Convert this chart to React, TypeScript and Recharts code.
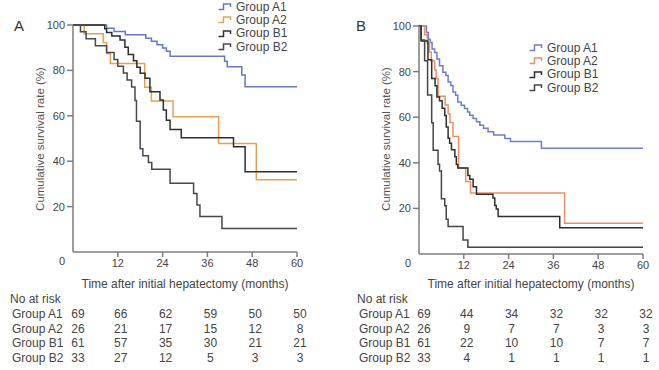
import { LineChart, Line, XAxis, YAxis } from "recharts";

// Panel A: survival (%) vs months, [month, survival]
const aA1 = [[0, 100], [9, 98.6], [11, 97.1], [14, 95.7], [19.5, 94.2], [21, 92.8], [22.5, 91.3], [24, 89.9], [25, 88.4], [26, 86.2], [40.6, 84], [41.3, 81.6], [45.2, 78], [46.1, 72.8], [60, 72.8]];
const aA2 = [[0, 100], [3, 96.2], [8.1, 92.3], [9, 87.5], [10, 83], [19.2, 72.6], [21, 66.5], [26.8, 59.6], [39, 47.8], [49.1, 31.8], [60, 31.8]];
const aB1 = [[0, 100], [8.5, 98.4], [9, 96.7], [10.4, 95.1], [12.6, 93.4], [13.9, 90.2], [14.8, 87], [16.2, 84.2], [17.1, 81.4], [18, 78.7], [19.3, 76.5], [20.6, 70.6], [23.3, 67], [24.2, 62.6], [25, 58], [26, 54], [29, 50.3], [43, 46.4], [46.1, 35.4], [60, 35.4]];
const aB2 = [[0, 100], [2, 97], [3.5, 93.9], [6, 90.9], [9, 87.9], [11, 84.8], [12, 81.8], [13.5, 78.8], [14.5, 75.8], [15.7, 72.7], [16.6, 66.7], [17, 57.6], [18, 45.5], [18.7, 42.4], [20.2, 39.4], [21.1, 36.4], [26, 30.3], [32.3, 25.8], [33.2, 20.7], [34, 15.6], [39.9, 10.4], [60, 10.4]];

// Panel B
const bA1 = [[0, 100], [2, 97.1], [2.5, 94.2], [3, 92.8], [3.5, 89.9], [4.2, 88.4], [4.8, 85.5], [5.5, 82.6], [6.4, 79.7], [7.2, 78.3], [7.8, 75.4], [8.5, 73.9], [9.1, 71], [9.8, 69.6], [10.4, 66.7], [11.3, 65.2], [12.2, 63.8], [13, 62.3], [13.6, 60.9], [14.5, 59.4], [15.4, 58], [16.3, 56.5], [17.3, 55.1], [18.5, 53.6], [20, 52.2], [23, 50.7], [24.5, 49.3], [32.8, 46.4], [60, 46.4]];
const bA2 = [[0, 100], [1.5, 96.2], [2.2, 92.3], [2.8, 88.5], [3.3, 84.6], [4.2, 80.8], [4.6, 76.9], [5.1, 69.2], [7, 65.4], [7.8, 61.5], [8.3, 57.7], [9.1, 51.5], [10.6, 37.7], [12.5, 31.8], [13.8, 26.7], [39, 13.5], [60, 13.5]];
const bB1 = [[0, 100], [0.6, 93.4], [2.4, 85.2], [3.4, 77], [4.3, 73.8], [4.8, 68.9], [5.5, 67.2], [6.2, 63.9], [6.9, 60.7], [7.3, 55.7], [7.8, 50.8], [8.2, 48.6], [8.7, 45.7], [9.6, 42.6], [10, 39.3], [10.4, 37.7], [13.1, 34.4], [13.6, 32.8], [14.5, 29.5], [15.4, 26.2], [19.8, 24.6], [20.3, 21.3], [20.7, 19.7], [21.2, 16.4], [37.7, 11.5], [60, 11.5]];
const bB2 = [[0, 100], [0.5, 93.9], [1.5, 84.8], [2.3, 69.7], [3.4, 57.6], [3.8, 45.5], [5.1, 39.4], [5.5, 36.4], [6, 24.2], [6.9, 21.2], [7.3, 15.2], [7.8, 12.1], [11.8, 6.1], [13.1, 3], [60, 3]];

const groups = ["Group A1", "Group A2", "Group B1", "Group B2"];
const xTicks = [12, 24, 36, 48, 60];
const yTicks = [20, 40, 60, 80, 100];
const riskMonths = [0, 12, 24, 36, 48, 60];
const riskA = [
  [69, 66, 62, 59, 50, 50],
  [26, 21, 17, 15, 12, 8],
  [61, 57, 35, 30, 21, 21],
  [33, 27, 12, 5, 3, 3],
];
const riskB = [
  [69, 44, 34, 32, 32, 32],
  [26, 9, 7, 7, 3, 3],
  [61, 22, 10, 10, 7, 7],
  [33, 4, 1, 1, 1, 1],
];

const FONT = '"Liberation Sans", Arial, Helvetica, sans-serif';
const TXT = "#444";
const AXIS = "#7d7d7d";

const toPts = (a: number[][]) => a.map(([t, s]) => ({ t, s }));

type PanelProps = {
  left: number;
  width: number;
  letter: string;
  letterX: number;
  series: number[][][];
  colors: string[];
  margin: { top: number; right: number; left: number; bottom: number };
  legendX: number;
  legendY: number;
  risk: number[][];
  labelX: number;
};

function LegendIcon({ color }: { color: string }) {
  return (
    <svg width={16} height={9} style={{ display: "block" }}>
      <path d="M0.5,7.5 H5.5 V2 H12.5 V5" fill="none" stroke={color} strokeWidth={1.5} />
    </svg>
  );
}

function Panel(p: PanelProps) {
  const plotL = p.margin.left + 40;
  const plotR = p.width - p.margin.right;
  const xOf = (m: number) => plotL + ((plotR - plotL) * m) / 60;
  const plotBottom = 280 - p.margin.bottom - 20;
  return (
    <div style={{ position: "absolute", left: p.left, top: 0, width: p.width, height: 370 }}>
      <LineChart width={p.width} height={280} margin={p.margin}>
        <XAxis
          type="number"
          dataKey="t"
          domain={[0, 60]}
          ticks={xTicks}
          height={20}
          allowDuplicatedCategory={false}
          stroke={AXIS}
          strokeWidth={1.5}
          tickSize={5}
          tick={{ fontSize: 11, fill: TXT, fontFamily: FONT }}
        />
        <YAxis
          type="number"
          domain={[0, 100]}
          ticks={yTicks}
          width={40}
          stroke={AXIS}
          strokeWidth={1.5}
          tickSize={6}
          tick={{ fontSize: 11, fill: TXT, fontFamily: FONT }}
        />
        {p.series.map((s, i) => (
          <Line
            key={i}
            data={toPts(s)}
            dataKey="s"
            type="stepAfter"
            stroke={p.colors[i]}
            strokeWidth={1.5}
            dot={false}
            activeDot={false}
            isAnimationActive={false}
          />
        ))}
      </LineChart>
      <div style={{ position: "absolute", left: p.letterX, top: 17, fontSize: 15, color: "#333" }}>{p.letter}</div>
      <div style={{ position: "absolute", left: plotL - 18, top: plotBottom + 3, width: 10, textAlign: "right", fontSize: 11, color: TXT }}>0</div>
      <div
        style={{
          position: "absolute",
          left: plotL - 33 - 100,
          top: 140 - 7,
          width: 200,
          textAlign: "center",
          fontSize: 11.5,
          color: "#555",
          transform: "rotate(-90deg)",
          whiteSpace: "nowrap",
        }}
      >
        Cumulative survival rate (%)
      </div>
      <div style={{ position: "absolute", left: p.legendX, top: p.legendY }}>
        {groups.map((g, i) => (
          <div key={g} style={{ display: "flex", alignItems: "center", height: 13.3, fontSize: 12, color: TXT }}>
            <LegendIcon color={p.colors[i]} />
            <span style={{ marginLeft: 2 }}>{g}</span>
          </div>
        ))}
      </div>
      <div style={{ position: "absolute", left: (plotL + plotR) / 2 - 150, top: 277, width: 300, textAlign: "center", fontSize: 12, color: TXT }}>
        Time after initial hepatectomy (months)
      </div>
      <div style={{ position: "absolute", left: p.labelX, top: 292, fontSize: 12, color: TXT }}>No at risk</div>
      {groups.map((g, r) => (
        <div key={g}>
          <div style={{ position: "absolute", left: p.labelX + 2, top: 307 + r * 14.5, fontSize: 12, color: TXT }}>{g}</div>
          {p.risk[r].map((v, c) => (
            <div
              key={c}
              style={{
                position: "absolute",
                left: xOf(riskMonths[c]) + (c === 0 ? 5 : 3) - 15,
                top: 307 + r * 14.5,
                width: 30,
                textAlign: "center",
                fontSize: 12,
                color: TXT,
              }}
            >
              {v}
            </div>
          ))}
        </div>
      ))}
    </div>
  );
}

export default function App() {
  return (
    <div style={{ position: "fixed", left: 0, top: 0, width: 659, height: 370, background: "#fff", fontFamily: FONT, overflow: "hidden" }}>
      <Panel
        left={0}
        width={330}
        letter="A"
        letterX={14}
        series={[aA1, aA2, aB1, aB2]}
        colors={["#6878c0", "#e8a050", "#2e2e2e", "#4d4550"]}
        margin={{ top: 25, right: 33, left: 33, bottom: 8 }}
        legendX={218}
        legendY={0}
        risk={riskA}
        labelX={10}
      />
      <Panel
        left={330}
        width={329}
        letter="B"
        letterX={26}
        series={[bA1, bA2, bB1, bB2]}
        colors={["#6f7fc4", "#ea9068", "#2e2e2e", "#454545"]}
        margin={{ top: 26, right: 16, left: 49, bottom: 6 }}
        legendX={199}
        legendY={41}
        risk={riskB}
        labelX={27}
      />
    </div>
  );
}
